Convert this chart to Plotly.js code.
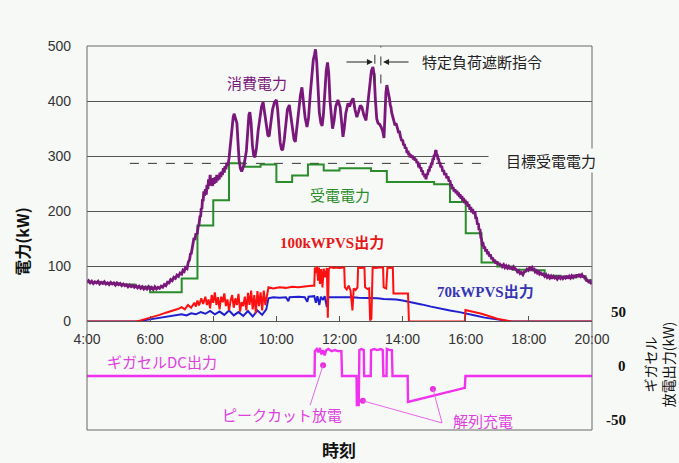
<!DOCTYPE html>
<html><head><meta charset="utf-8">
<script src="https://cdn.plot.ly/plotly-3.0.1.min.js"></script>
<style>html,body{margin:0;padding:0;background:#f7f9f7;}#chart{width:679px;height:463px;}</style>
</head><body><div id="chart"></div>
<script>
// ---- data (time in hours, power in kW) ----
const consumption = [[4.00,71],[4.05,74],[4.10,70],[4.15,73],[4.20,69],[4.25,72],[4.30,70],[4.35,73],[4.40,68],[4.45,71],[4.50,69],[4.55,72],[4.60,68],[4.65,70],[4.70,67],[4.75,71],[4.80,68],[4.85,70],[4.90,66],[4.95,70],[5.00,67],[5.05,69],[5.10,65],[5.15,68],[5.20,65],[5.25,67],[5.30,63],[5.35,66],[5.40,63],[5.45,65],[5.50,62],[5.55,65],[5.60,61],[5.65,64],[5.70,60],[5.75,63],[5.80,59],[5.85,62],[5.90,59],[5.95,63],[6.00,59],[6.05,62],[6.10,58],[6.15,63],[6.20,59],[6.25,62],[6.30,60],[6.35,64],[6.40,62],[6.45,67],[6.50,65],[6.55,71],[6.60,70],[6.65,76],[6.70,74],[6.75,80],[6.80,78],[6.85,84],[6.90,82],[6.95,88],[7.00,86],[7.04,93],[7.08,91],[7.12,98],[7.17,96],[7.21,108],[7.25,112],[7.28,124],[7.30,122],[7.33,138],[7.36,142],[7.39,152],[7.42,148],[7.45,160],[7.49,158],[7.52,172],[7.55,176],[7.58,192],[7.60,190],[7.62,206],[7.64,204],[7.66,222],[7.68,218],[7.70,236],[7.72,228],[7.75,240],[7.78,230],[7.80,248],[7.83,240],[7.85,258],[7.88,246],[7.90,266],[7.93,250],[7.95,256],[7.98,246],[8.00,260],[8.03,250],[8.06,262],[8.09,252],[8.11,266],[8.14,256],[8.16,262],[8.19,258],[8.21,270],[8.24,262],[8.26,272],[8.29,266],[8.32,278],[8.35,270],[8.37,282],[8.40,276],[8.43,288],[8.46,282],[8.50,296],[8.55,330],[8.59,355],[8.63,370],[8.66,377],[8.70,370],[8.75,360],[8.79,320],[8.82,292],[8.86,278],[8.90,272],[8.95,280],[9.00,292],[9.05,310],[9.10,355],[9.13,375],[9.16,380],[9.20,360],[9.24,320],[9.28,302],[9.32,298],[9.37,315],[9.42,345],[9.47,370],[9.53,390],[9.58,398],[9.63,375],[9.68,350],[9.73,338],[9.77,336],[9.82,360],[9.88,385],[9.94,398],[10.00,402],[10.04,385],[10.08,350],[10.12,325],[10.16,313],[10.20,311],[10.25,330],[10.30,360],[10.35,385],[10.41,393],[10.46,370],[10.51,345],[10.56,330],[10.60,326],[10.65,350],[10.70,385],[10.76,410],[10.81,425],[10.86,400],[10.91,370],[10.97,353],[11.02,370],[11.07,410],[11.12,450],[11.17,475],[11.21,485],[11.24,494],[11.28,470],[11.32,420],[11.36,380],[11.41,360],[11.45,355],[11.49,375],[11.53,420],[11.58,455],[11.62,470],[11.66,450],[11.70,400],[11.74,365],[11.78,350],[11.83,365],[11.88,390],[11.95,402],[12.02,389],[12.07,360],[12.11,335],[12.15,350],[12.20,378],[12.27,396],[12.32,390],[12.38,400],[12.43,405],[12.49,385],[12.55,371],[12.60,380],[12.66,392],[12.71,389],[12.77,375],[12.84,365],[12.90,395],[12.96,430],[13.01,455],[13.06,462],[13.10,445],[13.14,400],[13.18,368],[13.22,360],[13.27,358],[13.32,353],[13.37,345],[13.41,333],[13.44,380],[13.47,415],[13.50,429],[13.52,424],[13.54,418],[13.56,410],[13.59,402],[13.61,392],[13.63,389],[13.65,380],[13.68,372],[13.70,368],[13.72,364],[13.74,358],[13.76,356],[13.79,360],[13.82,350],[13.85,348],[13.87,342],[13.90,346],[13.92,338],[13.95,334],[13.97,328],[14.00,330],[14.03,320],[14.06,322],[14.08,314],[14.11,316],[14.14,306],[14.17,310],[14.19,302],[14.21,306],[14.23,298],[14.26,303],[14.28,297],[14.31,301],[14.34,294],[14.37,298],[14.39,292],[14.42,295],[14.45,288],[14.48,290],[14.50,283],[14.53,284],[14.55,278],[14.58,280],[14.60,272],[14.63,274],[14.65,266],[14.68,268],[14.70,262],[14.72,265],[14.74,258],[14.77,268],[14.79,266],[14.82,276],[14.84,272],[14.87,282],[14.89,279],[14.91,288],[14.93,284],[14.96,296],[14.98,293],[15.00,303],[15.02,300],[15.04,309],[15.06,311],[15.08,302],[15.10,303],[15.12,294],[15.14,296],[15.16,286],[15.18,289],[15.21,280],[15.24,282],[15.27,272],[15.30,275],[15.33,266],[15.37,269],[15.40,260],[15.44,263],[15.47,254],[15.50,256],[15.53,246],[15.55,249],[15.58,240],[15.60,244],[15.63,236],[15.66,240],[15.69,233],[15.72,237],[15.75,229],[15.77,234],[15.80,226],[15.82,231],[15.85,223],[15.88,228],[15.90,219],[15.93,224],[15.96,215],[15.98,221],[16.01,213],[16.04,218],[16.07,208],[16.10,213],[16.13,203],[16.16,208],[16.19,198],[16.22,204],[16.25,195],[16.29,200],[16.32,186],[16.34,190],[16.37,176],[16.40,178],[16.42,166],[16.45,168],[16.48,152],[16.50,150],[16.52,140],[16.55,141],[16.58,132],[16.60,136],[16.63,127],[16.66,131],[16.69,122],[16.71,127],[16.75,118],[16.78,122],[16.82,113],[16.85,116],[16.88,109],[16.92,112],[16.95,105],[16.99,109],[17.03,103],[17.06,106],[17.10,101],[17.13,104],[17.16,100],[17.20,103],[17.24,98],[17.28,101],[17.32,97],[17.36,100],[17.40,95],[17.44,99],[17.48,94],[17.52,99],[17.56,96],[17.60,94],[17.64,90],[17.68,92],[17.72,87],[17.76,89],[17.81,85],[17.85,90],[17.90,91],[17.94,95],[17.98,93],[18.02,97],[18.06,95],[18.10,98],[18.13,94],[18.17,95],[18.20,90],[18.24,92],[18.27,88],[18.31,90],[18.34,86],[18.38,88],[18.42,85],[18.46,86],[18.50,82],[18.54,85],[18.58,80],[18.62,83],[18.66,79],[18.70,82],[18.73,78],[18.78,82],[18.82,79],[18.86,81],[18.90,77],[18.95,81],[19.00,78],[19.04,82],[19.08,78],[19.12,81],[19.16,79],[19.20,83],[19.24,78],[19.28,82],[19.32,79],[19.36,83],[19.40,80],[19.44,84],[19.48,80],[19.52,85],[19.56,81],[19.60,86],[19.64,82],[19.68,85],[19.72,80],[19.75,83],[19.78,77],[19.81,79],[19.84,73],[19.87,75],[19.90,70],[19.94,73],[19.97,70],[20.00,72]];

const received = [[4.0,71],[4.5,69],[5.0,67],[5.5,63],[6.0,53],[6.5,53],[7.0,78],[7.5,174],[8.0,220],[8.5,287],[9.0,281],[9.5,285],[10.0,253],[10.5,265],[11.0,285],[11.5,274],[12.0,278],[12.5,278],[13.0,273],[13.5,253],[14.0,253],[14.5,253],[15.0,249],[15.5,217],[16.0,160],[16.5,107],[17.0,100],[17.5,94],[18.0,93],[18.5,83],[19.0,80],[19.5,82],[19.8,75],[20.0,75]];

const pv100 = [[4.00,0],[5.55,0],[5.70,2],[5.90,5],[6.10,8],[6.30,12],[6.50,16],[6.70,19],[6.90,23],[7.00,26],[7.10,22],[7.20,30],[7.30,25],[7.40,34],[7.45,27],[7.50,38],[7.55,29],[7.62,42],[7.68,32],[7.75,45],[7.80,30],[7.85,40],[7.90,24],[7.95,48],[8.00,34],[8.05,53],[8.10,30],[8.15,44],[8.20,22],[8.25,45],[8.30,35],[8.35,51],[8.40,28],[8.45,40],[8.50,20],[8.55,38],[8.60,48],[8.65,25],[8.70,42],[8.75,30],[8.80,50],[8.85,18],[8.90,35],[8.95,28],[9.00,45],[9.05,20],[9.10,52],[9.15,30],[9.20,56],[9.25,22],[9.30,48],[9.35,15],[9.40,55],[9.45,28],[9.50,53],[9.55,20],[9.60,56],[9.65,30],[9.70,45],[9.75,62],[9.90,60],[10.10,62],[10.30,61],[10.50,63],[10.70,62],[10.90,64],[11.10,65],[11.20,65],[11.22,98],[11.26,88],[11.29,100],[11.32,74],[11.35,98],[11.38,68],[11.42,95],[11.46,62],[11.50,96],[11.55,80],[11.60,97],[11.63,7],[11.66,95],[11.72,99],[11.80,97],[11.90,98],[12.00,97],[12.10,98],[12.15,98],[12.17,62],[12.23,58],[12.29,65],[12.35,56],[12.41,20],[12.45,60],[12.51,57],[12.57,62],[12.59,98],[12.68,97],[12.79,98],[12.81,62],[12.88,59],[12.94,60],[12.97,2],[13.01,5],[13.05,98],[13.15,97],[13.25,98],[13.38,98],[13.40,62],[13.48,60],[13.52,98],[13.60,97],[13.69,98],[13.71,51],[13.90,51],[14.17,51],[14.20,0],[15.97,0],[15.99,21],[16.50,14],[17.00,5],[17.45,0],[20.00,0]];

const pv70 = [[4.00,0],[5.60,0],[5.80,2],[6.00,4],[6.20,6],[6.40,8],[6.60,10],[6.80,12],[7.00,13],[7.15,11],[7.30,15],[7.45,13],[7.60,17],[7.75,14],[7.90,19],[8.05,13],[8.20,18],[8.35,12],[8.50,20],[8.65,11],[8.80,17],[8.95,10],[9.10,19],[9.25,9],[9.40,20],[9.55,12],[9.68,22],[9.75,42],[9.90,44],[10.10,43],[10.30,44],[10.38,37],[10.42,44],[10.70,45],[10.90,44],[10.98,36],[11.02,45],[11.20,46],[11.25,34],[11.30,46],[11.36,30],[11.41,45],[11.48,39],[11.53,46],[11.60,26],[11.64,44],[11.80,44],[12.00,45],[12.20,44],[12.40,44],[12.60,43],[12.80,43],[13.00,42],[13.20,42],[13.40,41],[13.60,41],[13.80,40],[14.00,38],[14.30,35],[14.60,31],[14.90,27],[15.20,23],[15.50,20],[15.80,17],[16.00,15],[16.30,11],[16.60,7],[16.90,4],[17.20,2],[17.45,0],[20.00,0]];

const gigacell = [[4.00,0],[11.21,0],[11.22,23],[11.28,25],[11.33,22],[11.38,26],[11.43,20],[11.48,24],[11.53,19],[11.58,24],[11.65,25],[11.75,23],[11.85,24],[11.95,23],[12.06,23],[12.08,0],[12.54,0],[12.55,-27],[12.61,-27],[12.63,24],[12.70,25],[12.77,24],[12.78,0],[12.99,0],[13.00,24],[13.10,25],[13.20,24],[13.30,25],[13.37,24],[13.39,0],[13.49,0],[13.50,25],[13.60,24],[13.66,24],[13.68,0],[14.16,0],[14.17,-24],[15.00,-18],[15.97,-11],[15.99,0],[20.00,0]];

const calloutDots = [[11.48,10],[12.74,-23],[14.96,-12]];
const targetPower = 287;            // 目標受電電力
const targetSpan = [5.36, 16.77];
const loadCutTimes = [13.12, 13.31]; // 特定負荷遮断指令

const xTickVals = [4,6,8,10,12,14,16,18,20];
const xTickText = ['4:00','6:00','8:00','10:00','12:00','14:00','16:00','18:00','20:00'];
const yTickVals = [0,100,200,300,400,500];
const y2TickVals = [50,0,-50];
const y2TickText = ['50','0','-50'];

const col = a => i => a.map(p => p[i]);
const BG = '#f7f9f7';
const JP = 'Noto Sans CJK JP, sans-serif';
const SERIF = 'Liberation Serif, Noto Sans CJK JP, serif';

const traces = [
  {x: col(pv70)(0), y: col(pv70)(1), mode:'lines', line:{color:'#1f1fd0', width:2}, yaxis:'y'},
  {x: col(pv100)(0), y: col(pv100)(1), mode:'lines', line:{color:'#ff1010', width:2}, yaxis:'y'},
  {x: col(received)(0), y: col(received)(1), mode:'lines', line:{color:'#2a8c2a', width:2, shape:'hv'}, yaxis:'y'},
  {x: col(consumption)(0), y: col(consumption)(1), mode:'lines', line:{color:'#7a177a', width:2.8}, yaxis:'y'},
  {x: col(gigacell)(0), y: col(gigacell)(1), mode:'lines', line:{color:'#f032f0', width:2.4}, yaxis:'y2'},
  {x: col(calloutDots)(0), y: col(calloutDots)(1), mode:'markers', marker:{color:'#e830e0', size:6}, yaxis:'y2'}
];

const ann = (x, y, text, color, size, extra) => Object.assign({x, y, xref:'x', yref:'y', text, showarrow:false, font:{family:JP, size, color}}, extra||{});

const annotations = [
  ann(9.39, 433, '消費電力', '#7a177a', 15),
  ann(12.02, 230, '受電電力', '#2a8c2a', 15),
  ann(11.75, 142, '<b>100kWPVS出力</b>', '#e81818', 15, {font:{family:SERIF, size:15, color:'#e81818'}}),
  ann(16.64, 53, '<b>70kWPVS出力</b>', '#3535b5', 15, {font:{family:SERIF, size:15, color:'#3535b5'}}),
  ann(16.72, 293, '目標受電電力', '#222', 15, {xanchor:'left', bgcolor:BG, width:106, align:'right', borderpad:1}),
  ann(16.52, 471, '特定負荷遮断指令', '#222', 15),
  {x:13.06, y:471, xref:'x', yref:'y', ax:-28, ay:0, text:'', showarrow:true, arrowhead:2, arrowsize:1, arrowwidth:1.2, arrowcolor:'#222'},
  {x:13.38, y:471, xref:'x', yref:'y', ax:27, ay:0, text:'', showarrow:true, arrowhead:2, arrowsize:1, arrowwidth:1.2, arrowcolor:'#222'},
  // lower panel labels
  {x:6.38, y:13, xref:'x', yref:'y2', text:'ギガセルDC出力', showarrow:false, font:{family:JP, size:15, color:'#e040e0'}},
  {x:10.18, y:-36, xref:'x', yref:'y2', text:'ピークカット放電', showarrow:false, font:{family:JP, size:15, color:'#e040e0'}},
  {x:16.55, y:-41, xref:'x', yref:'y2', text:'解列充電', showarrow:false, font:{family:JP, size:15, color:'#e040e0'}},
  // axis titles
  {x:-0.129, y:0.49, xref:'paper', yref:'paper', xanchor:'center', yanchor:'middle', text:'<b>電力(kW)</b>', textangle:-90, showarrow:false, font:{family:JP, size:16, color:'#111'}},
  {x:1.133, y:0.169, xref:'paper', yref:'paper', xanchor:'center', yanchor:'middle', text:'ギガセル<br>放電出力(kW)', textangle:-90, showarrow:false, font:{family:JP, size:14, color:'#111'}},
  {x:0.499, y:-0.052, xref:'paper', yref:'paper', xanchor:'center', yanchor:'middle', text:'<b>時刻</b>', showarrow:false, font:{family:JP, size:17, color:'#111'}}
];
y2TickVals.forEach((v, i) => annotations.push({x:1.0713, y:v, xref:'paper', yref:'y2', xanchor:'right', yanchor:'middle', yshift:10, text:'<b>'+y2TickText[i]+'</b>', showarrow:false, font:{family:'Liberation Serif, serif', size:15, color:'#111'}}));

const shapes = [
  {type:'line', xref:'x', yref:'y', x0:targetSpan[0], x1:targetSpan[1], y0:targetPower, y1:targetPower, line:{color:'#333', width:1, dash:'dash'}, layer:'between'},
  {type:'line', xref:'x', yref:'y', x0:loadCutTimes[0], x1:loadCutTimes[0], y0:435, y1:500, line:{color:'#333', width:1, dash:'dash'}},
  {type:'line', xref:'x', yref:'y', x0:loadCutTimes[1], x1:loadCutTimes[1], y0:432, y1:500, line:{color:'#333', width:1, dash:'dash'}},
  {type:'line', xref:'x', yref:'y2', x0:11.07, y0:-27, x1:calloutDots[0][0], y1:calloutDots[0][1], line:{color:'#e866e8', width:1}},
  {type:'line', xref:'x', yref:'y2', x0:15.25, y0:-43.5, x1:calloutDots[1][0], y1:calloutDots[1][1], line:{color:'#e866e8', width:1}},
  {type:'line', xref:'x', yref:'y2', x0:15.25, y0:-43.5, x1:calloutDots[2][0], y1:calloutDots[2][1], line:{color:'#e866e8', width:1}},
  {type:'rect', xref:'paper', yref:'paper', x0:0, x1:1, y0:0, y1:1, line:{color:'#666', width:1}, layer:'above'}
];

const layout = {
  width:679, height:463,
  margin:{l:87, r:87, t:46, b:33},
  paper_bgcolor:BG, plot_bgcolor:BG,
  showlegend:false,
  font:{family:'Liberation Sans, Noto Sans CJK JP, sans-serif', size:14, color:'#333'},
  xaxis:{range:[4,20], tickvals:xTickVals, ticktext:xTickText, showgrid:false, zeroline:false,
         showline:true, linecolor:'#555', ticks:'inside', ticklen:5, tickcolor:'#555', anchor:'y',
         ticklabelstandoff:5, tickfont:{size:14, color:'#333'}},
  yaxis:{domain:[0.2826,1], range:[0,500], tickvals:yTickVals, showgrid:true, gridcolor:'#555', gridwidth:1,
         zeroline:false, ticks:'', ticklabelstandoff:15, tickfont:{size:14, color:'#333'}},
  yaxis2:{domain:[0,0.28125], range:[-50,50], showgrid:false, zeroline:false, showticklabels:false, ticks:'', anchor:'x', side:'right'},
  annotations, shapes
};

Plotly.newPlot('chart', traces, layout, {staticPlot:true});
</script></body></html>
